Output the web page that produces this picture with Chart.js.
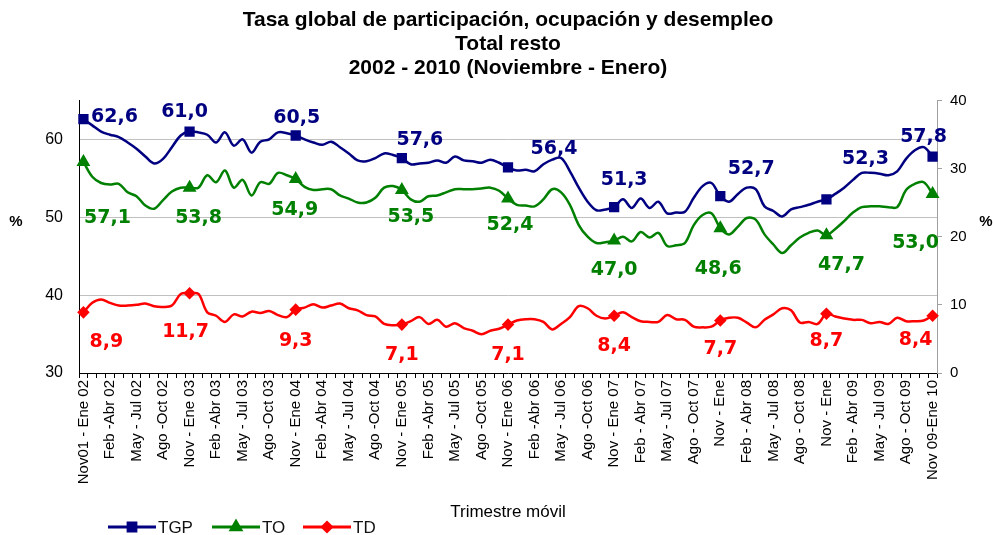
<!DOCTYPE html>
<html lang="es">
<head>
<meta charset="utf-8">
<title>Tasa global de participación, ocupación y desempleo</title>
<script src="https://cdn.jsdelivr.net/npm/chart.js@4.4.1/dist/chart.umd.min.js"></script>
<style>
  body { margin: 0; background: #fff; }
  #grafico { display: block; }
</style>
</head>
<body>
<canvas id="grafico" width="993" height="535"></canvas>
<script>
// etiquetas visibles del eje, una cada tres trimestres moviles
const etiquetasEje = [
  "Nov01 - Ene 02", "Feb -Abr 02", "May - Jul 02", "Ago -Oct 02",
  "Nov - Ene 03", "Feb -Abr 03", "May - Jul 03", "Ago -Oct 03",
  "Nov - Ene 04", "Feb -Abr 04", "May - Jul 04", "Ago -Oct 04",
  "Nov - Ene 05", "Feb -Abr 05", "May - Jul 05", "Ago -Oct 05",
  "Nov - Ene 06", "Feb -Abr 06", "May - Jul 06", "Ago -Oct 06",
  "Nov - Ene 07", "Feb - Abr 07", "May - Jul 07", "Ago - Oct 07",
  "Nov - Ene", "Feb - Abr 08", "May - Jul 08", "Ago - Oct 08",
  "Nov - Ene", "Feb - Abr 09", "May - Jul 09", "Ago - Oct 09",
  "Nov 09-Ene 10"
];

// 97 trimestres moviles, Nov01-Ene02 a Nov09-Ene10
const trimestres = [];
for (let i = 0; i < 97; i++) {
  trimestres.push(i % 3 === 0 ? etiquetasEje[i / 3] : "");
}

const tgp = [
  62.6, 61.8, 61.0, 60.6, 60.3, 59.6, 58.8, 57.8, 56.9, 57.5,
  59.0, 60.5, 61.0, 60.9, 60.6, 59.6, 60.9, 59.2, 60.0, 58.3,
  59.7, 60.0, 60.9, 60.8, 60.5, 60.0, 59.6, 59.3, 59.7, 59.0,
  58.2, 57.3, 57.2, 57.6, 58.2, 58.0, 57.6, 56.8, 56.9, 57.0,
  57.3, 57.0, 57.8, 57.3, 57.2, 57.0, 57.4, 57.0, 56.4, 56.0,
  56.1, 55.9, 56.8, 57.4, 57.6, 55.9, 53.8, 52.0, 50.9, 51.0,
  51.3, 52.3, 51.2, 52.4, 51.2, 52.0, 50.5, 50.6, 50.7, 52.5,
  54.0, 54.4, 52.7, 52.0, 53.0, 53.8, 53.6, 51.4, 50.8, 50.1,
  51.0, 51.3, 51.6, 52.0, 52.3, 53.0, 53.8, 54.8, 55.7, 55.7,
  55.6, 55.4, 55.9, 57.5, 58.6, 59.0, 57.8
];

const to = [
  57.1, 55.2, 54.4, 54.2, 54.3, 53.2, 52.7, 51.5, 51.1, 52.2,
  53.3, 53.8, 53.8, 53.8, 55.4, 54.5, 56.0, 53.8, 54.8, 52.8,
  54.5, 54.3, 55.7, 55.4, 54.9, 53.9, 53.5, 53.6, 53.6, 52.8,
  52.4, 51.9, 51.9, 52.5, 53.8, 54.0, 53.5, 52.3, 52.0, 52.7,
  52.8, 53.2, 53.6, 53.6, 53.6, 53.7, 53.8, 53.4, 52.4, 51.6,
  51.5, 51.4, 52.3, 53.6, 53.2, 51.6, 49.0, 47.5, 46.7, 46.8,
  47.0, 47.5, 46.9, 48.1, 47.4, 48.0, 46.3, 46.4, 46.7, 49.0,
  50.3, 50.5, 48.6, 47.8, 48.8, 49.9, 49.7, 47.8, 46.5, 45.4,
  46.4, 47.4, 48.0, 48.3, 47.7, 48.5, 49.5, 50.6, 51.3, 51.4,
  51.4, 51.3, 51.3, 53.5, 54.3, 54.5, 53.0
];

const td = [
  8.9, 10.3, 10.8, 10.3, 9.9, 9.9, 10.0, 10.2, 9.8, 9.7,
  9.9, 11.6, 11.7, 11.6, 8.9, 8.4, 7.5, 8.6, 8.3, 9.0,
  8.8, 9.1, 8.5, 8.2, 9.3, 9.6, 10.1, 9.6, 9.9, 10.2,
  9.5, 9.2, 8.5, 8.3, 7.2, 7.0, 7.1, 7.6, 8.2, 7.2,
  7.8, 6.8, 7.3, 6.6, 6.2, 5.7, 6.2, 6.5, 7.1, 7.7,
  7.9, 7.9, 7.5, 6.4, 7.2, 8.2, 9.8, 9.5, 8.4, 8.0,
  8.4, 8.9, 8.2, 7.6, 7.5, 7.5, 8.5, 7.9, 7.8, 6.8,
  6.7, 6.8, 7.7, 8.1, 8.1, 7.4, 6.7, 7.8, 8.6, 9.5,
  9.2, 7.4, 7.5, 7.2, 8.7, 8.3, 8.0, 7.8, 7.8, 7.3,
  7.5, 7.2, 8.1, 7.6, 7.6, 7.7, 8.4
];

Chart.defaults.font.family = '"Liberation Sans", Arial, sans-serif';
Chart.defaults.color = "#000";

// solo se marca el trimestre Nov-Ene de cada año
function radioMarca(r) {
  return (ctx) => (ctx.dataIndex % 12 === 0 ? r : 0);
}

// valores escritos junto a cada marca (desplazamiento en px respecto a la marca)
const etiquetasValores = {
  id: "etiquetasValores",
  afterDatasetsDraw(chart, args, opts) {
    const ctx = chart.ctx;
    ctx.save();
    ctx.font = 'bold 19px "DejaVu Sans"';
    ctx.textAlign = "center";
    ctx.textBaseline = "middle";
    chart.data.datasets.forEach((ds, d) => {
      const meta = chart.getDatasetMeta(d);
      const desp = opts.desplazamientos[d];
      ctx.fillStyle = ds.borderColor;
      let k = 0;
      ds.data.forEach((v, i) => {
        if (i % 12 !== 0) return;
        const p = meta.data[i];
        const [dx, dy] = desp[k++];
        ctx.fillText(v.toFixed(1).replace(".", ","), p.x + dx, p.y + dy);
      });
    });
    ctx.restore();
  }
};

// leyenda abajo a la izquierda y los "%" de los ejes
const leyenda = {
  id: "leyenda",
  afterDraw(chart, args, opts) {
    const ctx = chart.ctx;
    ctx.save();
    chart.data.datasets.forEach((ds, d) => {
      const x = opts.posiciones[d];
      const y = opts.y;
      ctx.strokeStyle = ds.borderColor;
      ctx.fillStyle = ds.borderColor;
      ctx.lineWidth = 3;
      ctx.beginPath();
      ctx.moveTo(x, y);
      ctx.lineTo(x + 48, y);
      ctx.stroke();
      Chart.helpers.drawPoint(ctx, {
        pointStyle: ds.pointStyle,
        radius: ds.legendRadius,
        rotation: 0,
        borderWidth: 1
      }, x + 24, y);
      ctx.fillStyle = "#111";
      ctx.font = '17px "Liberation Sans"';
      ctx.textAlign = "left";
      ctx.textBaseline = "middle";
      ctx.fillText(ds.label, x + 50, y + 1);
    });
    ctx.font = 'bold 15px "Liberation Sans"';
    ctx.fillStyle = "#000";
    ctx.textAlign = "center";
    ctx.textBaseline = "middle";
    ctx.fillText("%", 16, 222);
    ctx.fillText("%", 986, 222);
    ctx.restore();
  }
};

const config = {
  type: "line",
  data: {
    labels: trimestres,
    datasets: [
      {
        label: "TGP",
        data: tgp,
        yAxisID: "y",
        borderColor: "#000080",
        backgroundColor: "#000080",
        pointStyle: "rect",
        pointRadius: radioMarca(5.5),
        legendRadius: 5.5,
        borderWidth: 2.5,
        tension: 0.35
      },
      {
        label: "TO",
        data: to,
        yAxisID: "y",
        borderColor: "#008000",
        backgroundColor: "#008000",
        pointStyle: "triangle",
        pointRadius: radioMarca(5.5),
        legendRadius: 5.5,
        borderWidth: 2.5,
        tension: 0.35
      },
      {
        label: "TD",
        data: td,
        yAxisID: "y1",
        borderColor: "#ff0000",
        backgroundColor: "#ff0000",
        pointStyle: "rectRot",
        pointRadius: radioMarca(4.5),
        legendRadius: 4.5,
        borderWidth: 2.5,
        tension: 0.35
      }
    ]
  },
  options: {
    responsive: false,
    animation: false,
    devicePixelRatio: 1,
    layout: { padding: 0 },
    scales: {
      x: {
        type: "category",
        offset: true,
        grid: { offset: true, drawOnChartArea: false, color: "#000", tickLength: 5 },
        border: { color: "#000" },
        ticks: {
          autoSkip: false,
          maxRotation: 90,
          minRotation: 90,
          padding: 2,
          color: "#000",
          font: { size: 15 }
        },
        title: {
          display: true,
          text: "Trimestre móvil",
          color: "#000",
          font: { size: 17 },
          padding: { top: 0, bottom: 12 }
        },
        afterFit(scale) { scale.height = 162; }
      },
      y: {
        position: "left",
        min: 30,
        max: 65,
        ticks: { stepSize: 10, includeBounds: false, padding: 16, color: "#000", font: { size: 16 } },
        grid: {
          drawTicks: false,
          color: (ctx) => (ctx.tick && ctx.tick.value === 30 ? "rgba(0,0,0,0)" : "#c0c0c0")
        },
        border: { color: "#000" },
        afterFit(scale) { scale.width = 79; }
      },
      y1: {
        position: "right",
        min: 0,
        max: 40,
        ticks: { stepSize: 10, padding: 8, color: "#000", font: { size: 15 } },
        grid: { drawOnChartArea: false, color: "#a0a0a0", tickLength: 5 },
        border: { color: "#a0a0a0" },
        afterFit(scale) { scale.width = 56; }
      }
    },
    plugins: {
      legend: { display: false },
      tooltip: { enabled: false },
      title: {
        display: true,
        fullSize: false,
        text: [
          "Tasa global de participación, ocupación y desempleo",
          "Total resto",
          "2002 - 2010 (Noviembre - Enero)"
        ],
        color: "#000",
        font: { size: 21, weight: "bold", lineHeight: 1.15 },
        padding: { top: 8, bottom: 20 }
      },
      etiquetasValores: {
        desplazamientos: [
          [[31, -2], [-5, -20], [1, -17], [18, -18], [46, -18], [10, -27], [31, -27], [39, -40], [-9, -19]],
          [[24, 56], [9, 30], [-1, 31], [9, 27], [2, 26], [0, 29], [-2, 41], [15, 30], [-17, 49]],
          [[23, 30], [-4, 39], [0, 31], [0, 30], [0, 30], [0, 30], [0, 29], [0, 27], [-17, 24]]
        ]
      },
      leyenda: { posiciones: [108, 212, 303], y: 527 }
    }
  },
  plugins: [etiquetasValores, leyenda]
};

const grafico = new Chart(document.getElementById("grafico"), config);
</script>
</body>
</html>
